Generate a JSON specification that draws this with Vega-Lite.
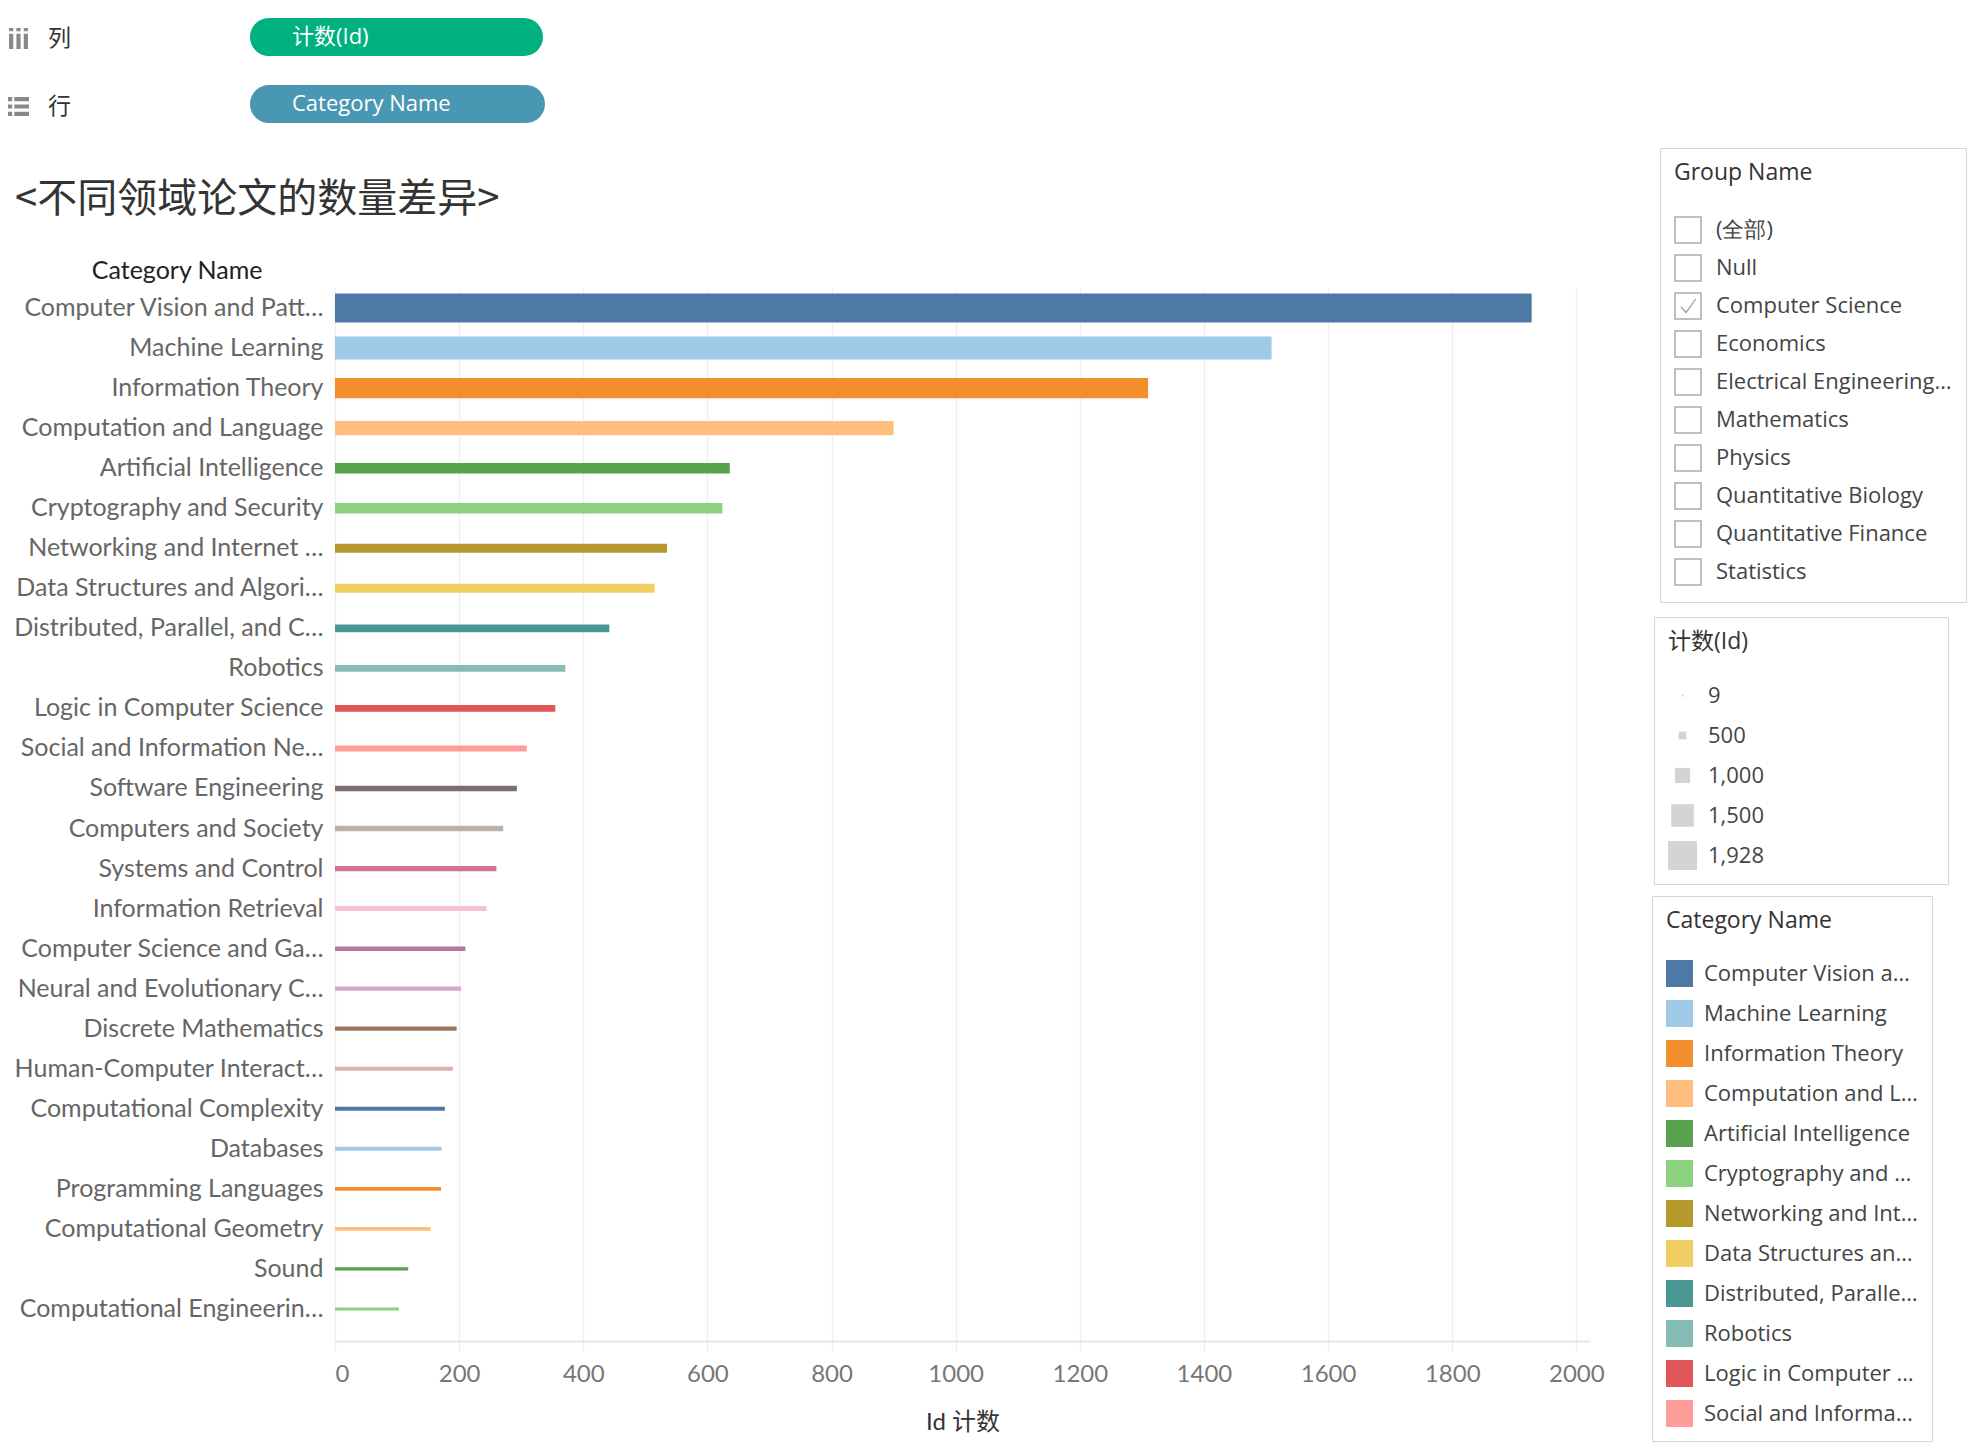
{
  "$schema": "https://vega.github.io/schema/vega-lite/v6.json",
  "autosize": {"type": "none"},
  "width": 1255,
  "height": 1053,
  "padding": {"left": 335, "top": 288, "right": 388, "bottom": 113},
  "background": "white",
  "title": {
    "text": "<不同领域论文的数量差异>",
    "anchor": "start",
    "frame": "group",
    "dx": -320,
    "dy": 206,
    "font": "Noto Sans CJK SC",
    "fontSize": 40,
    "fontWeight": "normal",
    "color": "#333333"
  },
  "datasets": {
    "papers": [
      {"category": "Computer Vision and Pattern Recognition", "group": "Computer Science", "count": 1928},
      {"category": "Machine Learning", "group": "Computer Science", "count": 1509},
      {"category": "Information Theory", "group": "Computer Science", "count": 1310},
      {"category": "Computation and Language", "group": "Computer Science", "count": 900},
      {"category": "Artificial Intelligence", "group": "Computer Science", "count": 636},
      {"category": "Cryptography and Security", "group": "Computer Science", "count": 624},
      {"category": "Networking and Internet Architecture", "group": "Computer Science", "count": 535},
      {"category": "Data Structures and Algorithms", "group": "Computer Science", "count": 515},
      {"category": "Distributed, Parallel, and Cluster Computing", "group": "Computer Science", "count": 442},
      {"category": "Robotics", "group": "Computer Science", "count": 371},
      {"category": "Logic in Computer Science", "group": "Computer Science", "count": 355},
      {"category": "Social and Information Networks", "group": "Computer Science", "count": 309},
      {"category": "Software Engineering", "group": "Computer Science", "count": 293},
      {"category": "Computers and Society", "group": "Computer Science", "count": 271},
      {"category": "Systems and Control", "group": "Computer Science", "count": 260},
      {"category": "Information Retrieval", "group": "Computer Science", "count": 244},
      {"category": "Computer Science and Game Theory", "group": "Computer Science", "count": 210},
      {"category": "Neural and Evolutionary Computing", "group": "Computer Science", "count": 203},
      {"category": "Discrete Mathematics", "group": "Computer Science", "count": 196},
      {"category": "Human-Computer Interaction", "group": "Computer Science", "count": 190},
      {"category": "Computational Complexity", "group": "Computer Science", "count": 177},
      {"category": "Databases", "group": "Computer Science", "count": 172},
      {"category": "Programming Languages", "group": "Computer Science", "count": 171},
      {"category": "Computational Geometry", "group": "Computer Science", "count": 154},
      {"category": "Sound", "group": "Computer Science", "count": 118},
      {"category": "Computational Engineering, Finance, and Science", "group": "Computer Science", "count": 103}
    ]
  },
  "layer": [
    {
      "data": {"name": "papers"},
      "mark": {"type": "bar"},
      "encoding": {
        "y": {
          "field": "category",
          "type": "nominal",
          "sort": "-x",
          "scale": {"paddingInner": 0, "paddingOuter": 0.15, "align": 0},
          "axis": {
            "title": "Category Name",
            "titleAngle": 0,
            "titleX": -73,
            "titleY": -18,
            "titleAlign": "right",
            "titleBaseline": "middle",
            "titleFont": "Lato",
            "titleFontSize": 25,
            "titleFontWeight": "normal",
            "titleColor": "#222222",
            "labelFont": "Lato",
            "labelFontSize": 25,
            "labelColor": "#666666",
            "labelPadding": 12,
            "labelLimit": 310,
            "ticks": false,
            "domainColor": "#eeeeee",
            "grid": false
          }
        },
        "x": {
          "field": "count",
          "type": "quantitative",
          "scale": {"domain": [0, 2022], "nice": false},
          "axis": {
            "title": "Id 计数",
            "titleFont": "Lato, Noto Sans CJK SC",
            "titleFontSize": 24,
            "titleFontWeight": "normal",
            "titleColor": "#333333",
            "titleY": 81,
            "titleBaseline": "middle",
            "format": "d",
            "labelFont": "Lato",
            "labelFontSize": 24,
            "labelColor": "#777777",
            "labelPadding": 11,
            "values": [0, 200, 400, 600, 800, 1000, 1200, 1400, 1600, 1800, 2000],
            "grid": true,
            "gridColor": "#efefef",
            "gridWidth": 1.5,
            "tickColor": "#efefef",
            "tickSize": 10,
            "tickWidth": 1.5,
            "domainColor": "#e6e6e6",
            "domainWidth": 2
          }
        },
        "color": {
          "field": "category",
          "type": "nominal",
          "scale": {
            "domain": ["Computer Vision and Pattern Recognition", "Machine Learning", "Information Theory", "Computation and Language", "Artificial Intelligence", "Cryptography and Security", "Networking and Internet Architecture", "Data Structures and Algorithms", "Distributed, Parallel, and Cluster Computing", "Robotics", "Logic in Computer Science", "Social and Information Networks", "Software Engineering", "Computers and Society", "Systems and Control", "Information Retrieval", "Computer Science and Game Theory", "Neural and Evolutionary Computing", "Discrete Mathematics", "Human-Computer Interaction", "Computational Complexity", "Databases", "Programming Languages", "Computational Geometry", "Sound", "Computational Engineering, Finance, and Science"],
            "range": ["#4E79A7", "#A0CBE8", "#F28E2B", "#FFBE7D", "#59A14F", "#8CD17D", "#B6992D", "#F1CE63", "#499894", "#86BCB6", "#E15759", "#FF9D9A", "#79706E", "#BAB0AC", "#D37295", "#FABFD2", "#B07AA1", "#D4A6C8", "#9D7660", "#D7B5A6", "#4E79A7", "#A0CBE8", "#F28E2B", "#FFBE7D", "#59A14F", "#8CD17D"]
          },
          "legend": {
            "title": "Category Name",
            "orient": "none",
            "legendX": 1317,
            "legendY": 608,
            "values": ["Computer Vision and Pattern Recognition", "Machine Learning", "Information Theory", "Computation and Language", "Artificial Intelligence", "Cryptography and Security", "Networking and Internet Architecture", "Data Structures and Algorithms", "Distributed, Parallel, and Cluster Computing", "Robotics", "Logic in Computer Science", "Social and Information Networks"],
            "symbolType": "square",
            "symbolSize": 729,
            "symbolStrokeWidth": 0,
            "labelLimit": 215,
            "labelOffset": 11,
            "rowPadding": 13,
            "padding": 14,
            "titlePadding": 27,
            "fillColor": "white",
            "strokeColor": "#d6d6d6"
          }
        },
        "size": {
          "field": "count",
          "type": "quantitative",
          "scale": {"domain": [0, 1928], "range": [1.5, 29]},
          "legend": null
        }
      }
    },
    {
      "data": {"values": []},
      "mark": {"type": "point", "shape": "square", "filled": true, "color": "#d4d4d4", "opacity": 1},
      "encoding": {
        "size": {
          "field": "count",
          "type": "quantitative",
          "scale": {"type": "pow", "exponent": 2, "domain": [0, 1928], "range": [4, 841]},
          "legend": {
            "title": "计数(Id)\u00a0\u00a0\u00a0\u00a0\u00a0\u00a0\u00a0\u00a0\u00a0\u00a0\u00a0\u00a0\u00a0\u00a0\u00a0\u00a0\u00a0\u00a0\u00a0\u00a0\u00a0\u00a0\u00a0\u00a0\u00a0\u00a0\u00a0\u00a0\u00a0\u00a0\u00a0\u200b",
            "titleLimit": 500,
            "orient": "none",
            "legendX": 1319,
            "legendY": 329,
            "values": [9, 500, 1000, 1500, 1928],
            "format": ",.0f",
            "symbolType": "square",
            "symbolStrokeWidth": 0,
            "clipHeight": 29,
            "labelOffset": 11,
            "rowPadding": 11,
            "padding": 14,
            "titlePadding": 27,
            "fillColor": "white",
            "strokeColor": "#d6d6d6"
          }
        }
      }
    },
    {
      "data": {"values": []},
      "mark": {"type": "point", "filled": false, "color": "#888888", "strokeWidth": 1.5},
      "encoding": {
        "shape": {
          "field": "group",
          "type": "nominal",
          "scale": {
            "domain": ["(全部)", "Null", "Computer Science", "Economics", "Electrical Engineering and Systems Science", "Mathematics", "Physics", "Quantitative Biology", "Quantitative Finance", "Statistics"],
            "range": [
              "M-1,-1L1,-1L1,1L-1,1Z",
              "M-1,-1L1,-1L1,1L-1,1Z",
              "M-1,-1L1,-1L1,1L-1,1Z M-0.55,0.05L-0.15,0.5L0.6,-0.55",
              "M-1,-1L1,-1L1,1L-1,1Z",
              "M-1,-1L1,-1L1,1L-1,1Z",
              "M-1,-1L1,-1L1,1L-1,1Z",
              "M-1,-1L1,-1L1,1L-1,1Z",
              "M-1,-1L1,-1L1,1L-1,1Z",
              "M-1,-1L1,-1L1,1L-1,1Z",
              "M-1,-1L1,-1L1,1L-1,1Z"
            ]
          },
          "legend": {
            "title": "Group Name",
            "orient": "none",
            "legendX": 1325,
            "legendY": -140,
            "symbolSize": 676,
            "symbolStrokeWidth": 1.5,
            "symbolStrokeColor": "#888888",
            "symbolFillColor": "transparent",
            "labelOffset": 14,
            "labelLimit": 240,
            "rowPadding": 6,
            "padding": 14,
            "titlePadding": 31,
            "fillColor": "white",
            "strokeColor": "#d6d6d6"
          }
        }
      }
    },
    {
      "data": {"values": []},
      "mark": {"type": "point", "filled": true, "color": "#555555"},
      "encoding": {
        "shape": {
          "field": "shelf",
          "type": "nominal",
          "scale": {
            "domain": ["列", "行"],
            "range": [
              "M-0.9,-0.45H-0.5V1H-0.9Z M-0.2,-0.45H0.2V1H-0.2Z M0.5,-0.45H0.9V1H0.5Z M-0.9,-1H-0.5V-0.7H-0.9Z M-0.2,-1H0.2V-0.7H-0.2Z M0.5,-1H0.9V-0.7H0.5Z",
              "M-1,-0.9H-0.6V-0.5H-1Z M-0.4,-0.9H1V-0.5H-0.4Z M-1,-0.2H-0.6V0.2H-1Z M-0.4,-0.2H1V0.2H-0.4Z M-1,0.5H-0.6V0.9H-1Z M-0.4,0.5H1V0.9H-0.4Z"
            ]
          },
          "legend": {
            "title": null,
            "orient": "none",
            "legendX": -328,
            "legendY": -261,
            "symbolSize": 441,
            "symbolStrokeWidth": 0,
            "labelFont": "Noto Sans CJK SC",
            "labelFontSize": 23,
            "labelColor": "#333333",
            "labelOffset": 18,
            "rowPadding": 44,
            "padding": 0
          }
        }
      }
    },
    {
      "data": {"values": []},
      "mark": {"type": "point", "filled": true, "color": "#00b180"},
      "encoding": {
        "shape": {
          "field": "columnsShelf",
          "type": "nominal",
          "scale": {"domain": ["计数(Id)"]},
          "legend": {
            "title": null,
            "orient": "none",
            "legendX": -85,
            "legendY": -270,
            "symbolSize": 0,
            "symbolOpacity": 0,
            "labelExpr": "datum.label + '\u00a0\u00a0\u00a0\u00a0\u00a0\u00a0\u00a0\u00a0\u00a0\u00a0\u00a0\u00a0\u00a0\u00a0\u00a0\u00a0\u00a0\u00a0\u00a0\u00a0\u00a0\u00a0\u00a0\u00a0\u00a0\u00a0\u00a0\u00a0\u00a0\u200b'",
            "labelFont": "Open Sans, Noto Sans CJK SC",
            "labelFontSize": 22,
            "labelColor": "white",
            "labelOffset": 12,
            "labelLimit": 600,
            "padding": 8,
            "cornerRadius": 20,
            "fillColor": "#00b180"
          }
        }
      }
    },
    {
      "data": {"values": []},
      "mark": {"type": "point", "filled": true, "color": "#4996b2"},
      "encoding": {
        "shape": {
          "field": "rowsShelf",
          "type": "nominal",
          "scale": {"domain": ["Category Name"]},
          "legend": {
            "title": null,
            "orient": "none",
            "legendX": -85,
            "legendY": -203,
            "symbolSize": 0,
            "symbolOpacity": 0,
            "labelExpr": "datum.label + '\u00a0\u00a0\u00a0\u00a0\u00a0\u00a0\u00a0\u00a0\u00a0\u00a0\u00a0\u00a0\u00a0\u00a0\u00a0\u200b'",
            "labelFont": "Open Sans",
            "labelFontSize": 22,
            "labelColor": "white",
            "labelOffset": 12,
            "labelLimit": 600,
            "padding": 8,
            "cornerRadius": 20,
            "fillColor": "#4a97b3"
          }
        }
      }
    }
  ],
  "resolve": {"scale": {"size": "independent", "shape": "independent"}},
  "config": {
    "view": {"stroke": null},
    "font": "Open Sans",
    "legend": {
      "titleFont": "Open Sans, Noto Sans CJK SC",
      "titleFontSize": 23,
      "titleFontWeight": "normal",
      "titleColor": "#333333",
      "labelFont": "Open Sans",
      "labelFontSize": 22,
      "labelColor": "#444444"
    }
  }
}
